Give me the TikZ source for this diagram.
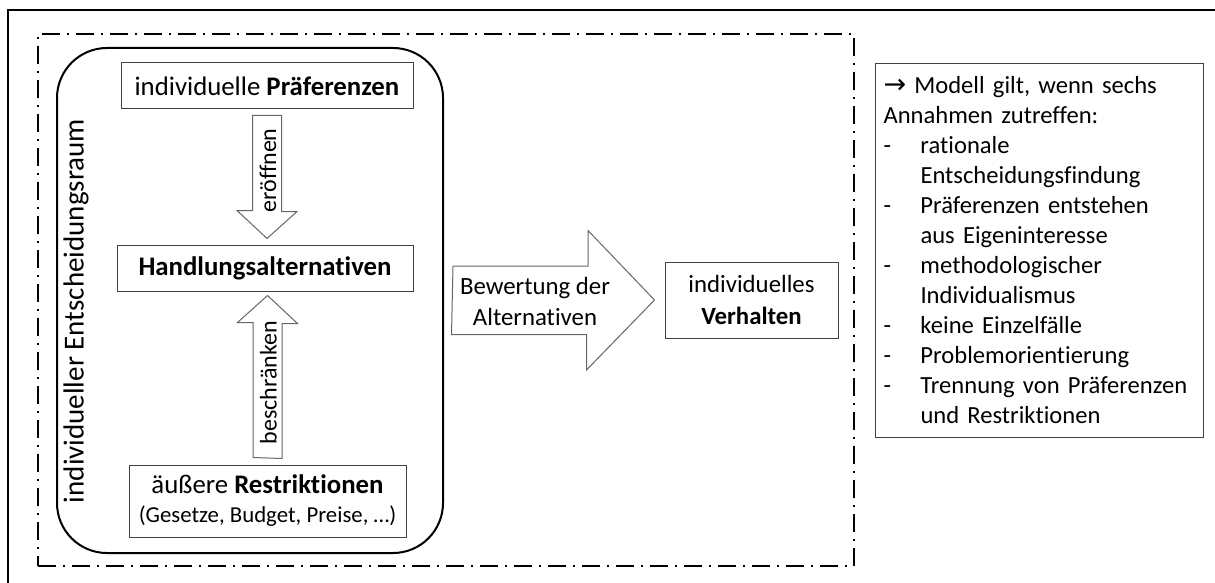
\documentclass[tikz,border=0pt]{standalone}
\usepackage{fontspec}
\setmainfont{Carlito}[Ligatures=NoCommon]
\newfontfamily\pfeilfont{DejaVu Sans}
\usetikzlibrary{calc}

\newcommand{\strich}{\makebox[18.5pt][l]{-}}
\newcommand{\einzug}{\hspace*{18.5pt}}

\begin{document}
\begin{tikzpicture}[x=0.5pt,y=-0.5pt,font=\fontsize{13.4}{16}\selectfont,
    text box/.style={draw=black!75,line width=0.5pt,inner sep=0pt},
    block arrow/.style={draw=black!60,line width=0.5pt,fill=white},
    arrow label/.style={rotate=90,font=\fontsize{12}{14}\selectfont},
    frame line/.style={line width=0.8pt},
    model frame/.style={draw,line width=1pt,dash pattern=on 9pt off 3.5pt on 1pt off 3.5pt},
    space frame/.style={draw,line width=1pt,rounded corners=25pt}]

\useasboundingbox (0,0) rectangle (1215,583);
\draw[frame line] (8,583) -- (8,10) -- (1215,10);

\node[model frame,minimum width=408pt,minimum height=266pt] (modell) at (446,300) {};
\node[space frame,minimum width=193pt,minimum height=252.5pt] (raum) at (250,300.5) {};
\node[rotate=90,font=\fontsize{14.5}{17}\selectfont] (raumtext) at (76,311) {individueller Entscheidungsraum};

\node[text box,minimum width=146pt,minimum height=23pt] (praef) at (267,86) {individuelle \textbf{Präferenzen}};
\node[text box,minimum width=148pt,minimum height=23pt] (handl) at (265,268) {\textbf{Handlungsalternativen}};
\node[text box,minimum width=138.5pt,minimum height=36pt,align=center] (restr) at (267.5,501)
    {äußere \textbf{Restriktionen}\\[-1.5pt]{\fontsize{11.4}{14}\selectfont (Gesetze, Budget, Preise, …)}};
\node[text box,minimum width=86.5pt,minimum height=38pt,align=center,
    font=\fontsize{12.4}{16}\selectfont] (verh) at (751.5,300) {individuelles\\\textbf{Verhalten}};

% Pfeile zwischen den Kaesten
\draw[block arrow] ($(praef.south)+(-14.5,6)$) -| ++(29,96) -- ++(15.5,0)
    -- ($(praef.south |- handl.north)+(0,-6)$) -- ++(-30,-28) -- ++(15.5,0) -- cycle;
\node[arrow label] (oeffnen) at ($(praef.south)+(1,61)$) {eröffnen};

\draw[block arrow] ($(restr.north)+(-14.5,-7)$) -- ++(0,-135) -- ++(-15.5,0)
    -- ($(restr.north |- handl.south)+(0,4)$) -- ++(30,28) -- ++(-15.5,0) -- ++(0,135) -- cycle;
\node[arrow label] (beschr) at ($(restr.north)+(1,-82)$) {beschränken};

\draw[block arrow] ($(raum.east)+(9,-34.5)$) -- ++(135,0) -- ++(0,-35.5)
    -- ($(verh.west)+(-10,0)$) -- ++(-68,70) -- ++(0,-35.5) -- ++(-135,0) -- cycle;
\node[align=center,font=\fontsize{12.4}{15.5}\selectfont] (bewertung) at (535,301) {Bewertung der\\Alternativen};

\node[text box,anchor=north west,text width=156pt,inner xsep=4pt,inner ysep=6.5pt,minimum height=187pt,
    align=left,font=\fontsize{12.3}{15}\selectfont] (annahmen) at (875,63)
    {{\pfeilfont\fontsize{13.5}{15}\selectfont →} Modell gilt, wenn sechs\\
     Annahmen zutreffen:\\
     \strich rationale\\
     \einzug Entscheidungsfindung\\
     \strich Präferenzen entstehen\\
     \einzug aus Eigeninteresse\\
     \strich methodologischer\\
     \einzug Individualismus\\
     \strich keine Einzelfälle\\
     \strich Problemorientierung\\
     \strich Trennung von Präferenzen\\
     \einzug und Restriktionen};

\end{tikzpicture}
\end{document}
